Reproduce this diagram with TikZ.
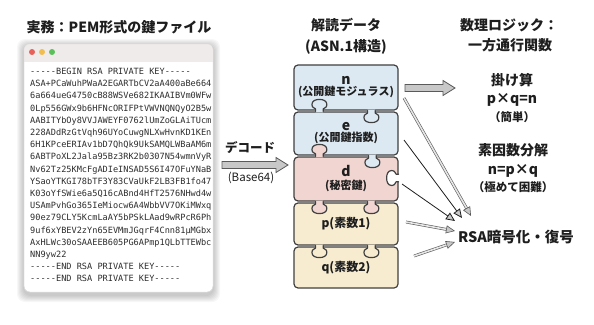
\documentclass[tikz,border=0pt]{standalone}
\usepackage{fontspec}
\setmainfont{Noto Sans CJK JP}
\setmonofont{DejaVu Sans Mono}
\usetikzlibrary{arrows.meta,calc}
\definecolor{pblue}{RGB}{221,233,242}
\definecolor{ppink}{RGB}{240,213,209}
\definecolor{pcream}{RGB}{248,236,208}
\definecolor{ink}{RGB}{30,30,30}
\definecolor{codeink}{RGB}{45,45,45}
\definecolor{barcol}{RGB}{240,235,235}
\definecolor{dotred}{RGB}{232,96,90}
\definecolor{dotyellow}{RGB}{240,189,79}
\definecolor{dotgreen}{RGB}{92,192,90}
\definecolor{arrowfill}{RGB}{200,200,200}
\definecolor{arrowline}{RGB}{90,90,90}
\tikzset{
  pieceline/.style={draw=ink!85, line width=1.2pt, line cap=round, line join=round},
  piece/.style={pieceline, rounded corners=4pt, minimum width=104pt, inner sep=0pt, align=center, text=ink},
  head/.style={font=\bfseries\fontsize{14}{17}\selectfont, text=ink, align=center, inner sep=0pt},
  big/.style={font=\bfseries\fontsize{14}{17}\selectfont, text=ink, inner sep=0pt},
  small/.style={font=\bfseries\fontsize{11.5}{13}\selectfont, text=ink, inner sep=0pt},
  codeline/.style={font=\ttfamily\fontsize{8.6}{10}\selectfont, text=codeink, anchor=base west, inner sep=0pt},
  windot/.style={circle, minimum size=6pt, inner sep=0pt},
  blockarrow/.style={fill=arrowfill, draw=arrowline, line width=0.8pt, line join=miter},
  dblarrow/.style={draw=arrowline, double=arrowfill!45, double distance=1.6pt, line width=0.6pt,
    -{Triangle[length=9pt,width=8pt,fill=arrowfill]}},
  thinarrow/.style={draw=ink, line width=0.8pt,
    -{Triangle[length=9pt,width=8pt,fill=arrowfill,color=ink]}},
  knob/.pic={
    \fill[fill=#1] (-3.8,-1) -- (-3.8,2.5) .. controls (-3.8,3.6) and (-7.5,3) .. (-7.5,6.8)
      .. controls (-7.5,10.5) and (-4,12) .. (0,12) .. controls (4,12) and (7.5,10.5) .. (7.5,6.8)
      .. controls (7.5,3) and (3.8,3.6) .. (3.8,2.5) -- (3.8,-1) -- cycle;
    \draw[pieceline] (-3.8,0) -- (-3.8,2.5) .. controls (-3.8,3.6) and (-7.5,3) .. (-7.5,6.8)
      .. controls (-7.5,10.5) and (-4,12) .. (0,12) .. controls (4,12) and (7.5,10.5) .. (7.5,6.8)
      .. controls (7.5,3) and (3.8,3.6) .. (3.8,2.5) -- (3.8,0);
  }
}
\begin{document}
\begin{tikzpicture}[x=1pt,y=-1pt]
\useasboundingbox (0,0) rectangle (594,324);
\fill[white] (0,0) rectangle (594,324);

% ---------- left: PEM window ----------
\node[head] (title) at (119,27) {実務：PEM形式の鍵ファイル};
\foreach \k in {1,...,7}
  \fill[black, opacity=0.03, rounded corners=8pt] (24-\k,44-\k+2) rectangle (213+\k,292+\k+3);
\node[draw=black!15, fill=white, rounded corners=6pt, minimum width=189pt, minimum height=248pt,
  inner sep=0pt] (win) at (118.5,168) {};
\begin{scope}
  \clip[rounded corners=6pt] (win.north west) rectangle (win.south east);
  \fill[barcol] (win.north west) rectangle ($(win.north east)+(0,18)$);
\end{scope}
\draw[black!15, rounded corners=6pt] (win.north west) rectangle (win.south east);
\node[windot, fill=dotred] (dotA) at (32,52) {};
\node[windot, fill=dotyellow] (dotB) at (42,52) {};
\node[windot, fill=dotgreen] (dotC) at (52,52) {};
\foreach \t [count=\i] in {%
  -----BEGIN RSA PRIVATE KEY-----,
  ASA+PCaWuhPWaA2EGARTbCV2aA400aBe664,
  6a664ueG4750cB88WSVe682IKAAIBVm0WFw,
  0Lp556GWx9b6HFNcORIFPtVWVNQNQyO2B5w,
  AABITYbOy8VVJAWEYF0762lUmZoGLAiTUcm,
  228ADdRzGtVqh96UYoCuwgNLXwHvnKD1KEn,
  6H1KPceERIAv1bD7QhQk9UkSAMQLWBaAM6m,
  6ABTPoXL2Jala95Bz3RK2b0307N54wmnVyR,
  Nv62Tz25KMcFgADIeINSAD5S6I47OFuYNaB,
  YSaoYTKGI78bTF3Y83CVaUkF2LB3FB1fo47,
  K03oYfSWie6a5Q16cABnd4HfT2576NHwd4w,
  USAmPvhGo365IeMiocw6A4WbbVV7OKiMWxq,
  90ez79CLY5KcmLaAY5bPSkLAad9wRPcR6Ph,
  9uf6xYBEV2zYn65EVMmJGqrF4Cnn81µMGbx,
  AxHLWc30oSAAEEB605PG6APmp1QLbTTEWbc,
  NN9yw22,
  -----END RSA PRIVATE KEY-----,
  -----END RSA PRIVATE KEY-----}
  \node[codeline] (c\i) at (30,62.3+12.2*\i) {\t};

% ---------- decode arrow ----------
\node[font=\bfseries\fontsize{12.5}{15}\selectfont, text=ink, inner sep=0pt] (dec) at (250,148) {デコード};
\node[font=\fontsize{11.5}{14}\selectfont, text=ink, inner sep=0pt] (b64) at (251,178) {(Base64)};
\coordinate (decA) at (222,165);
\coordinate (decB) at (288,165);
\draw[blockarrow] ($(decA)+(0,-3.5)$) -- ($(decB)+(-12,-3.5)$) -- ($(decB)+(-12,-7.5)$) -- (decB)
  -- ($(decB)+(-12,7.5)$) -- ($(decB)+(-12,3.5)$) -- ($(decA)+(0,3.5)$) -- cycle;

% ---------- middle: puzzle ----------
\node[head] (mid1) at (346,25) {解読データ};
\node[head] (mid2) at (346,47) {(ASN.1構造)};

\node[piece, fill=pblue, minimum height=45pt] (pn) at (346,87.5)
  {{\bfseries\fontsize{14}{14}\selectfont n}\\[-1pt]{\bfseries\fontsize{11}{12}\selectfont (公開鍵モジュラス)}};
\node[piece, fill=pblue, minimum height=43pt] (pe) at (346,133.5)
  {{\bfseries\fontsize{14}{14}\selectfont e}\\[-1pt]{\bfseries\fontsize{11}{12}\selectfont (公開鍵指数)}};
\node[piece, fill=ppink, minimum height=44pt] (pd) at (346,179)
  {{\bfseries\fontsize{14}{14}\selectfont d}\\[1pt]{\bfseries\fontsize{11}{12}\selectfont (秘密鍵)}};
\node[piece, fill=pcream, minimum height=42pt, font=\bfseries\fontsize{12}{13}\selectfont] (pp) at (346,224) {p(素数1)};
\node[piece, fill=pcream, minimum height=41pt, font=\bfseries\fontsize{12}{13}\selectfont] (pq) at (346,267.5) {q(素数2)};

% tabs and blanks
\pic at ($(pn.south west)+(78,0)$) {knob=pblue};
\pic[yscale=-1] at ($(pe.north west)+(26,0)$) {knob=pblue};
\pic at ($(pe.south west)+(79,0)$) {knob=pblue};
\pic[yscale=-1] at ($(pd.north west)+(26,0)$) {knob=ppink};
\pic at ($(pd.south west)+(26,0)$) {knob=ppink};
\pic at ($(pd.south west)+(78,0)$) {knob=ppink};
\pic at ($(pp.south west)+(26,0)$) {knob=pcream};
\pic at ($(pp.south west)+(78,0)$) {knob=pcream};
\pic[rotate=-90] at ($(pd.east)+(0,-1)$) {knob=white};

% ---------- right: math logic ----------
\node[head] (r1) at (509,25) {数理ロジック：};
\node[head] (r2) at (510,45) {一方通行関数};
\node[big] (mul) at (512,80) {掛け算};
\node[big] (mulf) at (512,100) {p×q=n};
\node[small] (mule) at (512,117) {（簡単）};
\node[big] (fac) at (513,150) {素因数分解};
\node[big] (facf) at (513,171) {n=p×q};
\node[small] (face) at (513,187) {（極めて困難）};
\node[font=\bfseries\fontsize{14.5}{17}\selectfont, text=ink, inner sep=0pt] (rsa) at (516,237) {RSA暗号化・復号};

\coordinate (nA) at (405,88);
\coordinate (nB) at (455,88);
\draw[blockarrow] ($(nA)+(0,-3.5)$) -- ($(nB)+(-12,-3.5)$) -- ($(nB)+(-12,-7.5)$) -- (nB)
  -- ($(nB)+(-12,7.5)$) -- ($(nB)+(-12,3.5)$) -- ($(nA)+(0,3.5)$) -- cycle;

\coordinate (sN) at (404,98);   \coordinate (tN) at (471,216);
\coordinate (sE) at (404,140);  \coordinate (tE) at (462,218);
\coordinate (sD) at (402,184);  \coordinate (tD) at (455,221);
\coordinate (sP) at (406,222);  \coordinate (tP) at (455,231);
\coordinate (sQ) at (414,256);  \coordinate (tQ) at (455,242);
\draw[dblarrow] (sN) -- (tN);
\draw[thinarrow] (sE) -- (tE);
\draw[thinarrow] (sD) -- (tD);
\draw[dblarrow] (sP) -- (tP);
\draw[dblarrow] (sQ) -- (tQ);
\end{tikzpicture}
\end{document}
